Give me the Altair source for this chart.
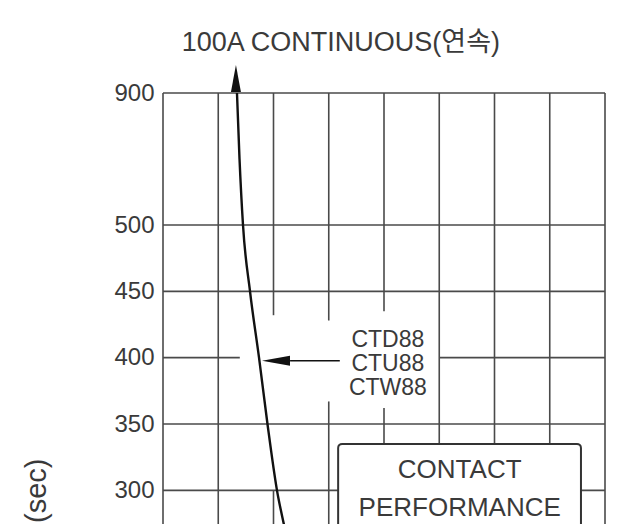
import altair as alt
import pandas as pd

FONT = "Liberation Sans, Noto Sans CJK KR, sans-serif"
GRID = "#4a4a4a"
TXT = "#3a3a3a"

# y-axis tick values (seconds)
y_ticks = [900, 500, 450, 400, 350, 300]

# curve (x in grid-cell units, y in seconds)
curve_x = [1.339, 1.385, 1.448, 1.575, 1.738, 1.891, 2.063, 2.19, 2.317]
curve_y = [900, 700, 500, 450, 400, 350, 300, 274, 250]

# horizontal grid segments
hgrid_y = [900, 500, 450, 400, 400, 350, 300, 250]
hgrid_x1 = [0, 0, 0, 0, 5, 0, 0, 0]
hgrid_x2 = [8, 8, 8, 1.39, 8, 8, 8, 8]

# vertical grid segments
vgrid_x = [0, 1, 2, 2, 3, 3, 4, 4, 5, 6, 7, 8]
vgrid_y1 = [200, 200, 432, 200, 428, 200, 435, 200, 200, 200, 200, 200]
vgrid_y2 = [900, 900, 900, 300, 900, 367, 900, 362, 900, 900, 900, 900]

# annotations
model_labels = ["CTD88", "CTU88", "CTW88"]
model_x = [4.07, 4.07, 4.07]
model_y = [413.6, 395.5, 377.4]

box_x1, box_x2, box_y1, box_y2 = [3.17], [7.565], [190], [335]
box_labels = ["CONTACT", "PERFORMANCE"]
box_lab_x = [5.37, 5.37]
box_lab_y = [315, 286.4]

top_label = ["100A CONTINUOUS(연속)"]
top_label_x = [3.22]
top_label_y = [1051]

arrow_line_x1, arrow_line_x2, arrow_line_y = [2.3], [3.2], [397.7]
arrow_head_x, arrow_head_y = [2.045], [397.7]
top_head_x, top_head_y = [1.32], [944]

axis_title = ["TIME (sec)"]
axis_title_x = [-2.28]
axis_title_y = [324]

xs = alt.Scale(domain=[0, 8], nice=False, zero=False)
ys = alt.Scale(domain=[200, 500, 900], range=[530, 132, 0], nice=False, zero=False)
yaxis = alt.Axis(values=y_ticks, ticks=False, domain=False, grid=False, labelFontSize=24,
                 labelFont=FONT, labelColor=TXT, labelPadding=9, title=None, labelFlush=False)


def X(f):
    return alt.X(f, type="quantitative", scale=xs, axis=None)


def Y(f):
    return alt.Y(f, type="quantitative", scale=ys, axis=yaxis)


hgrid = alt.Chart(pd.DataFrame({"y": hgrid_y, "x1": hgrid_x1, "x2": hgrid_x2})).mark_rule(
    color=GRID, strokeWidth=1.6).encode(x=X("x1"), x2="x2", y=Y("y"))

vgrid = alt.Chart(pd.DataFrame({"x": vgrid_x, "y1": vgrid_y1, "y2": vgrid_y2})).mark_rule(
    color=GRID, strokeWidth=1.6).encode(x=X("x"), y=Y("y1"), y2="y2")

curve = alt.Chart(pd.DataFrame({"x": curve_x, "y": curve_y, "o": list(range(len(curve_x)))})).mark_line(
    color="#111", strokeWidth=2.4, interpolate="monotone").encode(x=X("x"), y=Y("y"), order="o:Q")

top_head = alt.Chart(pd.DataFrame({"x": top_head_x, "y": top_head_y})).mark_point(
    shape="M0,-1L0.37,1L-0.37,1Z", size=729, filled=True, color="#111", opacity=1).encode(x=X("x"), y=Y("y"))

arrow_line = alt.Chart(pd.DataFrame({"x1": arrow_line_x1, "x2": arrow_line_x2, "y": arrow_line_y})).mark_rule(
    color="#111", strokeWidth=1.6).encode(x=X("x1"), x2="x2", y=Y("y"))

arrow_head = alt.Chart(pd.DataFrame({"x": arrow_head_x, "y": arrow_head_y})).mark_point(
    shape="M-1,0L1,-0.36L1,0.36Z", size=784, filled=True, color="#111", opacity=1).encode(x=X("x"), y=Y("y"))

box = alt.Chart(pd.DataFrame({"x1": box_x1, "x2": box_x2, "y1": box_y1, "y2": box_y2})).mark_rect(
    fill="white", stroke="#333", strokeWidth=2, cornerRadius=4).encode(x=X("x1"), x2="x2", y=Y("y1"), y2="y2")

box_text = alt.Chart(pd.DataFrame({"t": box_labels, "x": box_lab_x, "y": box_lab_y})).mark_text(
    font=FONT, fontSize=26, color=TXT, baseline="middle", align="center").encode(x=X("x"), y=Y("y"), text="t:N")

model_text = alt.Chart(pd.DataFrame({"t": model_labels, "x": model_x, "y": model_y})).mark_text(
    font=FONT, fontSize=23, color=TXT, baseline="middle", align="center").encode(x=X("x"), y=Y("y"), text="t:N")

top_text = alt.Chart(pd.DataFrame({"t": top_label, "x": top_label_x, "y": top_label_y})).mark_text(
    font=FONT, fontSize=27, color=TXT, baseline="middle", align="center").encode(x=X("x"), y=Y("y"), text="t:N")

ytitle = alt.Chart(pd.DataFrame({"t": axis_title, "x": axis_title_x, "y": axis_title_y})).mark_text(
    font=FONT, fontSize=29, color=TXT, baseline="middle", align="right", angle=270).encode(
    x=X("x"), y=Y("y"), text="t:N")

chart = alt.layer(hgrid, vgrid, curve, top_head, arrow_line, arrow_head, box, box_text,
                  model_text, top_text, ytitle).properties(
    width=442, height=530, autosize=alt.AutoSizeParams(type="none"),
    padding={"left": 155, "top": 85, "right": 20, "bottom": 0},
    background="white",
).configure_view(strokeWidth=0)

chart.save("out.html", embed_options={"renderer": "svg", "actions": False})
